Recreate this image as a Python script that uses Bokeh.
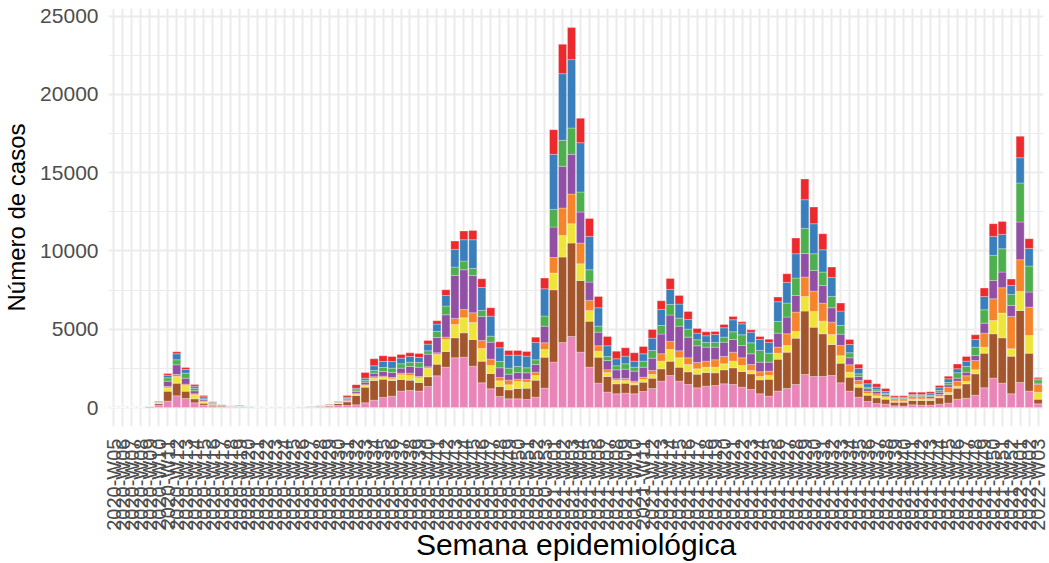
import numpy as np
from bokeh.plotting import figure
from bokeh.models import ColumnDataSource, Range1d, FixedTicker
from bokeh.embed import file_html
from bokeh.resources import INLINE

# categories: epidemiological weeks
weeks = ([f"2020-W{w:02d}" for w in range(5, 54)]
         + [f"2021-W{w:02d}" for w in range(1, 53)]
         + [f"2022-W{w:02d}" for w in range(1, 4)])

# series (bottom of stack first)
g_pink = [10, 15, 10, 20, 20, 150, 405, 746, 575, 298, 149, 70, 40, 25, 15, 15, 12, 10, 8, 8,
          12, 18, 25, 40, 65, 130, 128, 170, 298, 469, 639, 724, 1044, 1086, 1044, 1342, 2024, 2577, 3174, 3216,
          2641, 1576, 1193, 703, 554, 554, 511, 660, 1236, 2897, 4154, 4537, 3536, 2577, 1555, 980, 873, 916, 873, 1022,
          1214, 1683, 2045, 1683, 1470, 1257, 1363, 1406, 1512, 1470, 1299, 1150, 873, 724, 1044, 1214, 1470, 2109, 1981, 1981,
          2045, 1576, 1044, 660, 383, 256, 213, 107, 96, 170, 150, 149, 213, 277, 533, 596, 788, 1257, 1874, 1555,
          873, 1598, 1044, 234]
g_brown = [0, 5, 15, 5, 40, 110, 639, 809, 469, 256, 128, 80, 50, 30, 20, 15, 10, 8, 6, 6,
           10, 14, 22, 35, 60, 130, 234, 596, 1001, 1257, 1172, 1001, 746, 660, 554, 618, 746, 1001, 1278, 1555,
           1704, 1385, 980, 639, 575, 660, 724, 1086, 1980, 4622, 5453, 5964, 4580, 2939, 1661, 1001, 639, 639, 575, 596,
           660, 788, 916, 895, 809, 873, 873, 809, 895, 1065, 1001, 1001, 895, 1086, 2045, 2322, 2961, 4047, 3152, 2726,
           1981, 1257, 895, 639, 405, 362, 320, 234, 245, 277, 300, 298, 405, 554, 703, 916, 1363, 2215, 2833, 2897,
           2407, 4601, 2428, 298]
g_yellow = [0, 0, 0, 0, 10, 30, 213, 426, 362, 256, 85, 40, 20, 15, 10, 5, 5, 4, 3, 3,
            5, 6, 8, 12, 15, 20, 43, 85, 106, 149, 106, 106, 298, 298, 298, 554, 618, 767, 852, 959,
            1086, 809, 511, 362, 320, 447, 383, 298, 490, 1065, 1385, 1235, 1065, 682, 383, 256, 213, 170, 128, 170,
            234, 490, 746, 596, 469, 341, 341, 362, 383, 426, 383, 213, 213, 234, 383, 426, 426, 937, 1001, 809,
            639, 469, 320, 170, 107, 128, 107, 64, 64, 85, 85, 64, 85, 128, 128, 149, 256, 383, 852, 1576,
            469, 1214, 1129, 447]
g_orange = [0, 0, 0, 0, 15, 20, 85, 128, 85, 64, 43, 20, 10, 10, 25, 25, 8, 6, 4, 4,
            6, 8, 10, 14, 15, 15, 43, 64, 43, 85, 85, 85, 106, 149, 85, 85, 106, 149, 383, 533,
            618, 511, 405, 213, 298, 149, 170, 213, 426, 1001, 1747, 1896, 1321, 639, 341, 170, 107, 128, 107, 149,
            256, 469, 511, 447, 426, 405, 383, 469, 469, 575, 490, 383, 298, 277, 383, 746, 1235, 1235, 1299, 1150,
            788, 660, 469, 256, 149, 128, 85, 85, 85, 85, 85, 85, 128, 341, 320, 362, 596, 895, 1385, 1619,
            2066, 2024, 1811, 490]
g_purple = [0, 0, 0, 0, 0, 20, 341, 618, 383, 192, 85, 60, 30, 15, 10, 5, 5, 4, 3, 3,
            5, 8, 12, 18, 25, 30, 85, 106, 170, 234, 298, 320, 320, 426, 596, 809, 980, 1427, 2748, 2535,
            2386, 1534, 1086, 618, 383, 426, 426, 490, 1065, 1938, 2663, 2535, 1981, 1172, 873, 596, 575, 596, 639, 639,
            788, 1257, 1683, 1576, 1321, 1065, 895, 809, 916, 809, 788, 682, 618, 575, 895, 1065, 1065, 1512, 1321, 1129,
            916, 724, 447, 256, 149, 149, 107, 64, 64, 85, 85, 107, 149, 149, 192, 234, 320, 639, 1172, 1001,
            703, 2407, 959, 85]
g_green = [0, 0, 0, 0, 5, 30, 213, 320, 320, 170, 64, 30, 40, 25, 10, 5, 4, 3, 2, 2,
           4, 6, 8, 12, 18, 25, 43, 106, 128, 170, 256, 277, 277, 277, 298, 213, 383, 554, 533, 554,
           447, 383, 383, 405, 383, 383, 320, 298, 640, 1129, 1661, 1683, 1278, 788, 383, 256, 256, 341, 256, 383,
           490, 554, 682, 511, 511, 383, 298, 298, 320, 490, 682, 703, 746, 575, 746, 895, 1108, 1598, 1065, 852,
           724, 554, 320, 170, 107, 107, 85, 43, 43, 64, 64, 64, 107, 149, 341, 362, 533, 852, 1598, 1491,
           703, 2492, 1661, 213]
g_blue = [0, 0, 0, 0, 0, 40, 170, 383, 234, 128, 128, 40, 15, 5, 10, 5, 3, 3, 2, 2,
          4, 5, 8, 10, 17, 30, 85, 100, 128, 298, 383, 426, 362, 362, 320, 426, 469, 682, 1129, 1363,
          1832, 1470, 1278, 873, 831, 724, 746, 1108, 1747, 3515, 4260, 4367, 3152, 2130, 1172, 682, 447, 490, 383, 469,
          788, 1022, 959, 895, 618, 426, 426, 511, 596, 767, 703, 682, 703, 682, 1257, 1321, 1555, 1832, 1917, 1427,
          1214, 916, 533, 341, 213, 170, 107, 64, 64, 64, 64, 107, 170, 234, 256, 341, 490, 852, 1214, 916,
          575, 1619, 1129, 64]
g_red = [0, 0, 0, 0, 0, 20, 107, 128, 128, 107, 85, 22, 8, 5, 30, 10, 3, 2, 2, 2,
         4, 5, 7, 9, 15, 25, 106, 234, 362, 447, 362, 320, 234, 234, 256, 234, 213, 362, 533, 554,
         596, 554, 533, 383, 298, 298, 298, 341, 680, 1576, 1874, 2045, 1555, 1150, 724, 596, 490, 533, 533, 469,
         554, 554, 703, 554, 511, 298, 256, 192, 213, 213, 128, 149, 192, 213, 298, 554, 1001, 1321, 1065, 1022,
         660, 511, 320, 277, 256, 213, 192, 85, 85, 149, 149, 128, 149, 170, 298, 298, 298, 533, 809, 831,
         405, 1363, 618, 85]

series_names = ["g_pink", "g_brown", "g_yellow", "g_orange", "g_purple", "g_green", "g_blue", "g_red"]
series_values = [g_pink, g_brown, g_yellow, g_orange, g_purple, g_green, g_blue, g_red]
colors = ["#EA85B9", "#A3552C", "#EEE43A", "#F5842A", "#9150A4", "#4DAF4D", "#3A7FBC", "#EC2A2D"]

y_ticks = [0, 5000, 10000, 15000, 20000, 25000]
y_minor = [2500, 7500, 12500, 17500, 22500]

xs = list(range(len(weeks)))
data = {"x": xs}
for n, v in zip(series_names, series_values):
    data[n] = v
src = ColumnDataSource(data)

p = figure(width=1049, height=563, output_backend="svg", toolbar_location=None,
           x_range=Range1d(-0.6, len(weeks) - 1 + 0.6),
           y_range=Range1d(-1213, 25483),
           min_border_left=108, min_border_right=6, min_border_top=8, min_border_bottom=137)
p.outline_line_color = None
p.background_fill_color = "white"
p.border_fill_color = "white"

p.vbar_stack(series_names, x="x", width=0.9, color=colors, source=src,
             line_color="white", line_width=0.4, line_alpha=0.7)

FONT = "Liberation Sans"
xt = FixedTicker(ticks=xs)
p.xaxis.ticker = xt
p.xaxis.major_label_overrides = {i: w for i, w in enumerate(weeks)}
p.xaxis.major_label_orientation = np.pi / 2
p.yaxis.ticker = FixedTicker(ticks=y_ticks, minor_ticks=y_minor)

for ax in (p.xaxis[0], p.yaxis[0]):
    ax.axis_line_color = None
    ax.major_tick_line_color = None
    ax.minor_tick_line_color = None
    ax.major_tick_out = 0
    ax.minor_tick_out = 0
    ax.major_label_text_font = FONT
    ax.major_label_text_color = "#4D4D4D"
    ax.axis_label_text_font = FONT
    ax.axis_label_text_font_style = "normal"
    ax.axis_label_text_color = "black"

p.xaxis.major_label_text_font_size = "20px"
p.yaxis.major_label_text_font_size = "21px"
p.xaxis.axis_label_text_font_size = "30px"
p.yaxis.axis_label_text_font_size = "24px"
p.xaxis.axis_label = "Semana epidemiológica"
p.yaxis.axis_label = "Número de casos"
p.xaxis.major_label_standoff = 12
p.yaxis.major_label_standoff = 10
p.xaxis.axis_label_standoff = -6
p.yaxis.axis_label_standoff = 7

p.xgrid.ticker = xt
p.xgrid.grid_line_color = "#EBEBEB"
p.xgrid.grid_line_width = 2
p.ygrid.grid_line_color = "#EBEBEB"
p.ygrid.grid_line_width = 2
p.ygrid.minor_grid_line_color = "#EBEBEB"
p.ygrid.minor_grid_line_width = 1

open("out.html", "w").write(file_html(p, INLINE))
